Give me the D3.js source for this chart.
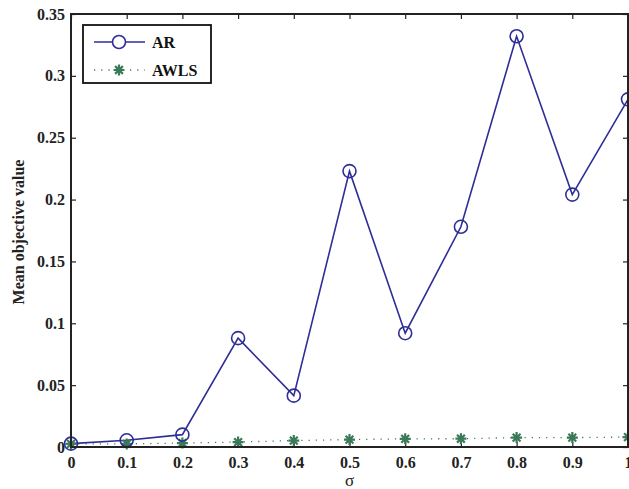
<!DOCTYPE html>
<html>
<head>
<meta charset="utf-8">
<script src="https://cdn.jsdelivr.net/npm/d3@7"></script>
<style>
  body { margin: 0; background: #fff; }
  text { font-family: "Liberation Serif", "Times New Roman", serif; }
</style>
</head>
<body>
<div id="chart"></div>
<script>
// data
var sigma = [0, 0.1, 0.2, 0.3, 0.4, 0.5, 0.6, 0.7, 0.8, 0.9, 1];
var arValues = [0.0027, 0.0054, 0.0100, 0.0880, 0.0415, 0.2230, 0.0920, 0.1780, 0.3320, 0.2040, 0.2810];
var awlsValues = [0.0025, 0.0025, 0.0032, 0.0040, 0.0052, 0.0060, 0.0066, 0.0067, 0.0076, 0.0076, 0.0080];
var xTicks = [0, 0.1, 0.2, 0.3, 0.4, 0.5, 0.6, 0.7, 0.8, 0.9, 1];
var yTicks = [0, 0.05, 0.1, 0.15, 0.2, 0.25, 0.3, 0.35];
var seriesNames = ["AR", "AWLS"];

var W = 629, H = 489;
var margin = {top: 14, right: 1, bottom: 42, left: 71};
var width = W - margin.left - margin.right;
var height = H - margin.top - margin.bottom;

var arColor = "#2e2e96", awlsColor = "#3b7a58";

var x = d3.scaleLinear().domain([0, 1]).range([0, width]);
var y = d3.scaleLinear().domain([0, 0.35]).range([height, 0]);

var svg = d3.select("#chart").append("svg")
    .attr("width", W).attr("height", H)
  .append("g")
    .attr("transform", "translate(" + margin.left + "," + margin.top + ")");

function fmt(d) { return String(d); }

// axes with inward ticks
var xAxis = d3.axisBottom(x).tickValues(xTicks).tickSize(-5).tickPadding(10).tickFormat(fmt);
var yAxis = d3.axisLeft(y).tickValues(yTicks).tickSize(-5).tickPadding(6).tickFormat(fmt);
var xTop = d3.axisTop(x).tickValues(xTicks).tickSize(-5).tickFormat("");
var yRight = d3.axisRight(y).tickValues(yTicks).tickSize(-5).tickFormat("");

function styleAxis(g) {
  g.select(".domain").remove();
  g.selectAll(".tick line").attr("stroke", "#222").attr("stroke-width", 1.2);
  g.selectAll("text").attr("fill", "#222").style("font-size", "16px").style("font-weight", "bold")
    .style("font-family", "'Liberation Serif', serif");
}

svg.append("g").attr("transform", "translate(0," + height + ")").call(xAxis).call(styleAxis);
svg.append("g").call(yAxis).call(styleAxis);
svg.append("g").call(xTop).call(styleAxis);
svg.append("g").attr("transform", "translate(" + width + ",0)").call(yRight).call(styleAxis);

// AWLS dotted line
svg.append("path")
    .datum(awlsValues)
    .attr("fill", "none")
    .attr("stroke", awlsColor)
    .attr("stroke-width", 1.3)
    .attr("stroke-dasharray", "1.2,6")
    .attr("d", d3.line().x(function(d, i) { return x(sigma[i]); }).y(function(d) { return y(d); }));

// AR line
svg.append("path")
    .datum(arValues)
    .attr("fill", "none")
    .attr("stroke", arColor)
    .attr("stroke-width", 1.6)
    .attr("d", d3.line().x(function(d, i) { return x(sigma[i]); }).y(function(d) { return y(d); }));

function star(r) {
  var p = "";
  for (var k = 0; k < 4; k++) {
    var a = k * Math.PI / 4;
    var dx = r * Math.cos(a), dy = r * Math.sin(a);
    p += "M" + (-dx) + "," + (-dy) + "L" + dx + "," + dy;
  }
  return p;
}

svg.selectAll(".awls").data(awlsValues).enter().append("path")
    .attr("class", "awls")
    .attr("transform", function(d, i) { return "translate(" + x(sigma[i]) + "," + y(d) + ")"; })
    .attr("d", star(5.5))
    .attr("stroke", awlsColor)
    .attr("stroke-width", 2.2);

svg.selectAll(".ar").data(arValues).enter().append("circle")
    .attr("class", "ar")
    .attr("cx", function(d, i) { return x(sigma[i]); })
    .attr("cy", function(d) { return y(d); })
    .attr("r", 6.5)
    .attr("fill", "none")
    .attr("stroke", arColor)
    .attr("stroke-width", 1.6);

// frame
svg.append("rect")
    .attr("width", width).attr("height", height)
    .attr("fill", "none").attr("stroke", "#222").attr("stroke-width", 2);

// legend
var legend = svg.append("g").attr("transform", "translate(" + (83 - margin.left) + "," + (25 - margin.top) + ")");
legend.append("rect").attr("width", 128).attr("height", 58)
    .attr("fill", "#fff").attr("stroke", "#111").attr("stroke-width", 1.8);

var lg1 = legend.append("g").attr("transform", "translate(0,17)");
lg1.append("line").attr("x1", 11).attr("x2", 62).attr("stroke", arColor).attr("stroke-width", 1.6);
lg1.append("circle").attr("cx", 36).attr("r", 6.5).attr("fill", "#fff").attr("stroke", arColor).attr("stroke-width", 1.6);
lg1.append("text").attr("x", 69).attr("dy", "0.35em").text(seriesNames[0])
    .style("font-size", "16px").style("font-weight", "bold").attr("fill", "#111");

var lg2 = legend.append("g").attr("transform", "translate(0,45)");
lg2.append("line").attr("x1", 11).attr("x2", 62).attr("stroke", awlsColor).attr("stroke-width", 1.3).attr("stroke-dasharray", "1.2,6");
lg2.append("path").attr("transform", "translate(36,0)").attr("d", star(5.5)).attr("stroke", awlsColor).attr("stroke-width", 2.2);
lg2.append("text").attr("x", 69).attr("dy", "0.35em").text(seriesNames[1])
    .style("font-size", "16px").style("font-weight", "bold").attr("fill", "#111");

// axis titles
svg.append("text")
    .attr("x", width / 2).attr("y", height + 39)
    .attr("text-anchor", "middle")
    .style("font-size", "17px").attr("fill", "#222")
    .text("σ");

svg.append("text")
    .attr("transform", "translate(" + (-47) + "," + (232 - margin.top) + ") rotate(-90)")
    .attr("text-anchor", "middle")
    .style("font-size", "16px").style("font-weight", "bold").attr("fill", "#222")
    .text("Mean objective value");
</script>
</body>
</html>
